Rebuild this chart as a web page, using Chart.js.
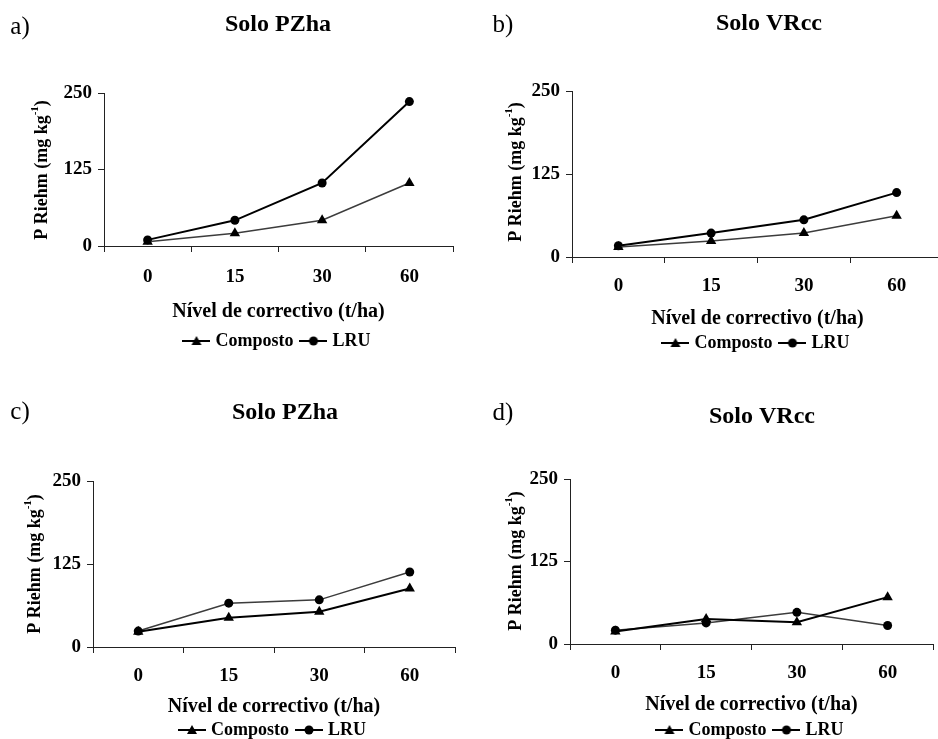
<!DOCTYPE html>
<html>
<head>
<meta charset="utf-8">
<script src="https://cdn.jsdelivr.net/npm/chart.js@4.4.1/dist/chart.umd.min.js"></script>
<style>
  html, body { margin: 0; padding: 0; background: #fff; overflow: hidden; width: 938px; height: 739px; position: relative; }
  canvas { position: absolute; }
</style>
</head>
<body>
<canvas id="gA"></canvas>
<canvas id="gB"></canvas>
<canvas id="gC"></canvas>
<canvas id="gD"></canvas>
<script>
// niveis de correctivo (t/ha) e escala do eixo y
const niveis = ['0', '15', '30', '60'];
const pTicks = [0, 125, 250];
const series = ['Composto', 'LRU'];

// a) Solo PZha
const compostoA = [7, 21, 42, 103];
const lruA = [10, 42, 103, 236];
// b) Solo VRcc
const compostoB = [15, 24, 36, 62];
const lruB = [17, 36, 56, 97];
// c) Solo PZha
const compostoC = [23, 44, 53, 88];
const lruC = [24, 66, 71, 113];
// d) Solo VRcc
const compostoD = [19, 38, 33, 71];
const lruD = [21, 32, 48, 28];

const FONT = "'Liberation Serif', 'Times New Roman', serif";

// icone da legenda: linha com o marcador no meio
function iconeLegenda(estilo) {
    const c = document.createElement('canvas');
    c.width = 28; c.height = 12;
    const g = c.getContext('2d');
    g.strokeStyle = '#000'; g.lineWidth = 2;
    g.beginPath(); g.moveTo(0, 6); g.lineTo(28, 6); g.stroke();
    g.fillStyle = '#000';
    g.beginPath();
    if (estilo === 'triangle') {
        g.moveTo(14, 1); g.lineTo(19, 10); g.lineTo(9, 10); g.closePath();
    } else {
        g.arc(14, 6, 4.5, 0, Math.PI * 2);
    }
    g.fill();
    return c;
}
const icones = [iconeLegenda('triangle'), iconeLegenda('circle')];

// letra do painel, titulo e titulo do eixo y com expoente
const textoPainel = {
    id: 'textoPainel',
    afterDraw(chart, args, o) {
        const ctx = chart.ctx;
        ctx.save();
        ctx.fillStyle = '#000';
        ctx.textBaseline = 'middle';
        ctx.textAlign = 'center';
        ctx.font = `25px ${FONT}`;
        ctx.fillText(o.letra, o.letraX, o.letraY);
        ctx.font = `bold 24px ${FONT}`;
        ctx.fillText(o.titulo, o.tituloX, o.tituloY);

        ctx.translate(o.yTitX, o.yTitY);
        ctx.rotate(-Math.PI / 2);
        ctx.textAlign = 'left';
        const f1 = `bold 18px ${FONT}`, f2 = `bold 11px ${FONT}`;
        ctx.font = f1;
        const w1 = ctx.measureText('P Riehm (mg kg').width;
        const w3 = ctx.measureText(')').width;
        ctx.font = f2;
        const w2 = ctx.measureText('-1').width;
        let x = -(w1 + w2 + w3) / 2;
        ctx.font = f1; ctx.fillText('P Riehm (mg kg', x, 0); x += w1;
        ctx.font = f2; ctx.fillText('-1', x, -7); x += w2;
        ctx.font = f1; ctx.fillText(')', x, 0);
        ctx.restore();
    }
};

const paineis = [
    { id: 'gA', left: 0, top: 0, w: 469, h: 370, area: { l: 104, t: 93, r: 453, b: 246 },
      xH: 76, pb: 10, labelPad: 13.6, titPad: -2, composto: compostoA, lru: lruA, forteLRU: true,
      txt: { letra: 'a)', letraX: 20, letraY: 27, titulo: 'Solo PZha', tituloX: 278, tituloY: 25, yTitX: 42, yTitY: 170 } },
    { id: 'gB', left: 469, top: 0, w: 480, h: 370, area: { l: 103, t: 91, r: 475, b: 257 },
      xH: 67, pb: 8, labelPad: 11.6, titPad: -7, composto: compostoB, lru: lruB, forteLRU: true,
      txt: { letra: 'b)', letraX: 34, letraY: 25, titulo: 'Solo VRcc', tituloX: 300, tituloY: 24, yTitX: 47, yTitY: 172 } },
    { id: 'gC', left: 0, top: 370, w: 469, h: 380, area: { l: 93, t: 111, r: 455, b: 277 },
      xH: 64, pb: 1, labelPad: 11.6, titPad: -8, composto: compostoC, lru: lruC, forteLRU: false,
      txt: { letra: 'c)', letraX: 20, letraY: 42, titulo: 'Solo PZha', tituloX: 285, tituloY: 43, yTitX: 35, yTitY: 194 } },
    { id: 'gD', left: 469, top: 370, w: 470, h: 380, area: { l: 101, t: 109, r: 468, b: 274 },
      xH: 67, pb: 1, labelPad: 11.6, titPad: -6, composto: compostoD, lru: lruD, forteLRU: false,
      txt: { letra: 'd)', letraX: 34, letraY: 43, titulo: 'Solo VRcc', tituloX: 293, tituloY: 47, yTitX: 47, yTitY: 191 } },
];

const serie = (label, data, estilo, forte) => ({
    label: label,
    data: data,
    borderColor: forte ? '#000' : '#3c3c3c',
    borderWidth: forte ? 2 : 1.5,
    pointStyle: estilo,
    pointRadius: estilo === 'triangle' ? 6 : 4.5,
    pointBackgroundColor: '#000',
    pointBorderColor: '#000',
    pointBorderWidth: 0,
    tension: 0,
    fill: false,
});

paineis.forEach((p) => {
    const cv = document.getElementById(p.id);
    cv.width = p.w; cv.height = p.h;
    cv.style.left = p.left + 'px'; cv.style.top = p.top + 'px';
    cv.style.width = p.w + 'px'; cv.style.height = p.h + 'px';

    new Chart(cv, {
        type: 'line',
        data: {
            labels: niveis,
            datasets: [
                serie(series[0], p.composto, 'triangle', !p.forteLRU),
                serie(series[1], p.lru, 'circle', p.forteLRU),
            ],
        },
        options: {
            responsive: false,
            animation: false,
            devicePixelRatio: 1,
            events: [],
            layout: { padding: { left: 0, top: p.area.t, right: p.w - p.area.r, bottom: p.pb } },
            scales: {
                x: {
                    offset: true,
                    grid: { offset: true, drawOnChartArea: false, tickLength: 6, color: '#222' },
                    border: { color: '#222', width: 1 },
                    ticks: { color: '#000', padding: p.labelPad, font: { family: FONT, size: 19, weight: 'bold' } },
                    title: {
                        display: true, text: 'Nível de correctivo (t/ha)', color: '#000',
                        font: { family: FONT, size: 20, weight: 'bold' },
                        padding: { top: 0, bottom: p.titPad },
                    },
                    afterFit(s) { s.height = p.xH; },
                },
                y: {
                    min: pTicks[0],
                    max: pTicks[pTicks.length - 1],
                    grid: { drawOnChartArea: false, tickLength: 6, color: '#222' },
                    border: { color: '#222', width: 1 },
                    ticks: { stepSize: pTicks[1] - pTicks[0], color: '#000', padding: 6,
                             font: { family: FONT, size: 19, weight: 'bold' } },
                    afterFit(s) { s.width = p.area.l; },
                },
            },
            plugins: {
                legend: {
                    display: true,
                    position: 'bottom',
                    fullSize: false,
                    labels: {
                        usePointStyle: true,
                        pointStyleWidth: 20,
                        padding: 10,
                        color: '#000',
                        font: { family: FONT, size: 18, weight: 'bold' },
                        generateLabels(chart) {
                            const itens = Chart.defaults.plugins.legend.labels.generateLabels(chart);
                            itens.forEach((it, i) => { it.pointStyle = icones[i]; });
                            return itens;
                        },
                    },
                },
                tooltip: { enabled: false },
                textoPainel: p.txt,
            },
        },
        plugins: [textoPainel],
    });
});
</script>
</body>
</html>
